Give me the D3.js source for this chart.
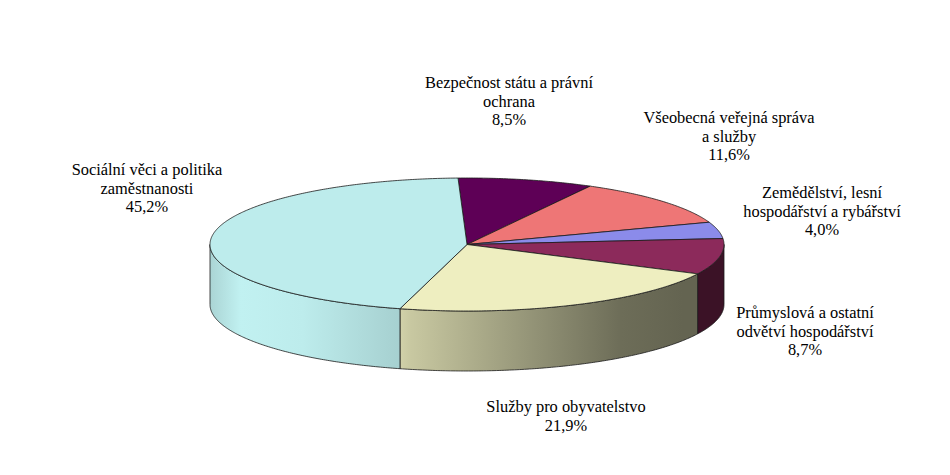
<!DOCTYPE html>
<html><head><meta charset="utf-8">
<script src="https://cdn.jsdelivr.net/npm/d3@7"></script>
<style>body{margin:0;background:#fff}svg{display:block}</style>
</head><body>
<svg id="chart" width="950" height="475"></svg>
<script>
const categories = [
  "Bezpečnost státu a právní ochrana",
  "Všeobecná veřejná správa a služby",
  "Zemědělství, lesní hospodářství a rybářství",
  "Průmyslová a ostatní odvětví hospodářství",
  "Služby pro obyvatelstvo",
  "Sociální věci a politika zaměstnanosti"
];
const values = [8.5, 11.6, 4.0, 8.7, 21.9, 45.2];
const colors = ["#5E0056", "#EE7676", "#8B8BEA", "#8C2A5B", "#EEEEC0", "#BDECEC"];
const labelLines = [
  ["Bezpečnost státu a právní", "ochrana"],
  ["Všeobecná veřejná správa", "a služby"],
  ["Zemědělství, lesní", "hospodářství a rybářství"],
  ["Průmyslová a ostatní", "odvětví hospodářství"],
  ["Služby pro obyvatelstvo"],
  ["Sociální věci a politika", "zaměstnanosti"]
];

// layout
const cx = 467, cy = 244.5, rx = 257, ry = 66.5, depth = 60;
const startDeg = -2;
const labelPos = [[509, 88], [729, 123], [822, 198], [805, 318], [566, 412], [147, 175]];
const lineH = 18.7;

const svg = d3.select("#chart");
const defs = svg.append("defs");

const toRad = d => d * Math.PI / 180;
const pie = d3.pie().sort(null).value(d => d)
  .startAngle(toRad(startDeg)).endAngle(toRad(startDeg) + 2 * Math.PI);
const arcs = pie(values);

const px = a => cx + rx * Math.sin(a);
const py = a => cy - ry * Math.cos(a);
const line = d3.line().x(d => d[0]).y(d => d[1]);

function arcPts(a0, a1, dy) {
  const n = Math.max(2, Math.ceil(Math.abs(a1 - a0) / 0.01));
  const pts = [];
  for (let i = 0; i <= n; i++) {
    const a = a0 + (a1 - a0) * i / n;
    pts.push([px(a), py(a) + dy]);
  }
  return pts;
}

const shade = [[0, 0.90], [0.06, 1.02], [0.18, 1.0], [0.37, 0.88], [0.39, 0.84], [0.53, 0.71], [0.66, 0.59], [0.80, 0.46], [0.92, 0.42], [1, 0.42]];
colors.forEach((c, i) => {
  const g = defs.append("linearGradient").attr("id", "side" + i)
    .attr("gradientUnits", "userSpaceOnUse")
    .attr("x1", cx - rx).attr("x2", cx + rx).attr("y1", 0).attr("y2", 0);
  const base = d3.rgb(c);
  shade.forEach(([o, f]) => {
    const col = d3.rgb(Math.min(255, base.r * f), Math.min(255, base.g * f), Math.min(255, base.b * f));
    g.append("stop").attr("offset", o).attr("stop-color", col.formatHex());
  });
});

const sides = svg.append("g");
arcs.forEach((d, i) => {
  const lo = Math.PI / 2, hi = 3 * Math.PI / 2;
  const s = Math.max(d.startAngle, lo), e = Math.min(d.endAngle, hi);
  if (e <= s) return;
  const top = arcPts(s, e, 0);
  const bot = arcPts(e, s, depth);
  sides.append("path")
    .attr("d", line(top.concat(bot)) + "Z")
    .attr("fill", `url(#side${i})`)
    .attr("stroke", "#1a1a1a").attr("stroke-width", 0.8).attr("stroke-linejoin", "round");
});

const tops = svg.append("g");
arcs.forEach((d, i) => {
  const pts = [[cx, cy]].concat(arcPts(d.startAngle, d.endAngle, 0));
  tops.append("path")
    .attr("d", line(pts) + "Z")
    .attr("fill", colors[i])
    .attr("stroke", "#1a1a1a").attr("stroke-width", 0.8).attr("stroke-linejoin", "round");
});

const fmt = v => d3.format(".1f")(v).replace(".", ",") + "%";
const lg = svg.append("g");
arcs.forEach((d, i) => {
  const [lx, ly] = labelPos[i];
  const t = lg.append("text").attr("x", lx).attr("y", ly)
    .attr("font-family", "Liberation Serif").attr("font-size", 16.4)
    .attr("fill", "#000").attr("text-anchor", "middle");
  labelLines[i].concat([fmt(values[i])]).forEach((s, k) => {
    t.append("tspan").attr("x", lx).attr("y", ly + k * lineH).text(s);
  });
});
</script>
</body></html>
